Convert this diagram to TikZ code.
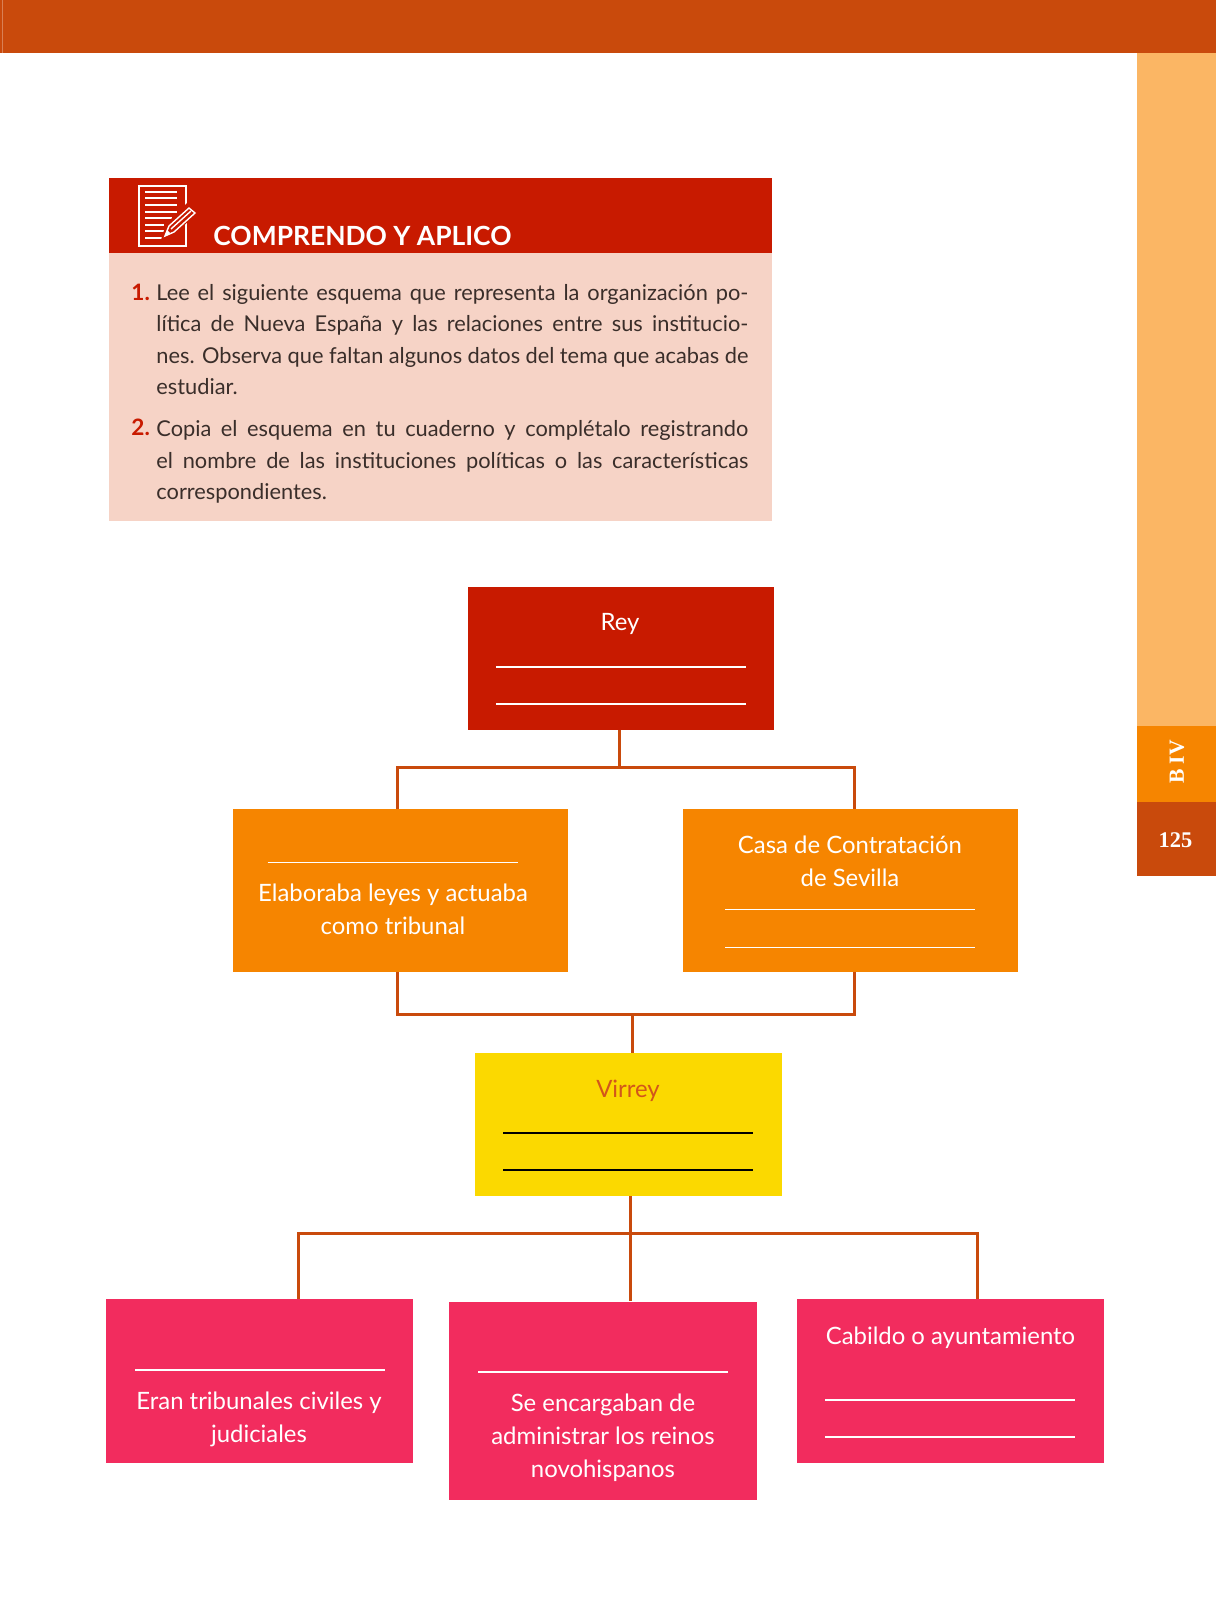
\documentclass[tikz,border=0pt]{standalone}
\usepackage{fontspec}
\setmainfont{Lato}
\newfontfamily\pagefont{Liberation Serif}
\usetikzlibrary{
  positioning,
  calc,
}
\definecolor{barCol}{HTML}{C94A0C}
\definecolor{sideCol}{HTML}{FBB664}
\definecolor{tabCol}{HTML}{F68500}
\definecolor{headCol}{HTML}{C81A00}
\definecolor{panelCol}{HTML}{F6D3C6}
\definecolor{yellowCol}{HTML}{FBD900}
\definecolor{pinkCol}{HTML}{F22C5E}
\definecolor{textCol}{HTML}{3A2E2A}
\definecolor{virreyCol}{HTML}{D2561A}
\tikzset{
  box/.style={
    rectangle, inner sep=0pt, draw=none, minimum width=#1,
  },
  boxtext/.style={
    font=\fontsize{11.95}{16.6}\selectfont, text=white, align=center, inner sep=0pt,
  },
  body/.style={
    font=\fontsize{10.9}{15.7}\selectfont, text=textCol, align=justify,
    text width=296pt, inner sep=0pt, anchor=north west,
  },
  num/.style={
    font=\fontsize{11.3}{15.7}\selectfont\bfseries, text=headCol, inner sep=0pt,
  },
  blank/.style={white, line width=0.75pt},
  link/.style={barCol, line width=1.5pt},
}

\begin{document}
\begin{tikzpicture}[x=0.5pt, y=-0.5pt]

  \useasboundingbox (0, 0) rectangle (1216, 1600);

  % Page frame
  \fill[barCol] (0, 0) rectangle (1216, 53);
  \draw[barCol!70!white, line width=0.5pt] (2.5, 0) -- (2.5, 53);
  \fill[sideCol] (1137, 53) rectangle (1216, 726);
  \fill[tabCol] (1137, 726) rectangle (1216, 802);
  \fill[barCol] (1137, 802) rectangle (1216, 876);
  \node[font=\pagefont\fontsize{10.8}{12}\selectfont\bfseries, text=white, rotate=90, inner sep=0pt] (block) at (1177, 762) {B IV};
  \node[font=\pagefont\fontsize{11.2}{12}\selectfont\bfseries, text=white, inner sep=0pt] (page) at (1175.5, 840) {125};

  % Instructions
  \fill[headCol] (109, 178) rectangle (772, 253);
  \fill[panelCol] (109, 253) rectangle (772, 521);
  \node[font=\fontsize{13.2}{16}\selectfont\bfseries, text=white, anchor=west, inner sep=0pt] (title) at (213, 236) {COMPRENDO Y APLICO};

  % Notepad icon
  \draw[white, line width=1.1pt] (139, 186) rectangle (186, 246);
  \foreach \y/\e in {192/177, 198/177, 205/177, 212/177, 218/172, 225/164, 231/164, 238/162} {
    \draw[white, line width=0.9pt] (145, \y) -- (\e, \y);
  }
  \fill[headCol] (160, 243) -- (166, 224) -- (187, 203) -- (198, 211) -- (176, 234) -- cycle;
  \draw[white, line width=0.7pt, fill=headCol] (165, 236) -- (169, 226) -- (189, 208) -- (195, 213) -- (174, 232) -- cycle;
  \draw[white, line width=0.7pt] (171, 229) -- (191, 211);
  \fill[white] (165, 236) -- (167, 230) -- (170, 233) -- cycle;

  \node[num, anchor=base west] (n1) at (131, 300) {1.};
  \node[body] (item1) at (156, 284) {Lee el siguiente esquema que representa la organización po-\linebreak lítica de Nueva España y las relaciones entre sus institucio-\linebreak nes. Observa que faltan algunos datos del tema que acabas de\linebreak estudiar.};
  \node[num, anchor=base west] (n2) at (131, 435) {2.};
  \node[body] (item2) at (156, 420.5) {Copia el esquema en tu cuaderno y complétalo registrando\linebreak el nombre de las instituciones políticas o las características\linebreak correspondientes.};

  % Boxes
  \node[box=167.5pt, minimum height=81.5pt, fill=tabCol] (leyes) at (400.5, 890.5) {};
  \node[box=167.5pt, minimum height=81.5pt, fill=tabCol] (casa) at (850, 890.5) {};
  \node[box=153pt, minimum height=71.5pt, fill=headCol] (rey) at (620.5, 658) {};
  \node[box=153.5pt, minimum height=71.5pt, fill=yellowCol] (virrey) at (628.5, 1124.5) {};
  \node[box=153.5pt, minimum height=82pt, fill=pinkCol] (trib) at (259.5, 1381) {};
  \node[box=154pt, minimum height=99pt, fill=pinkCol] (reinos) at (603, 1400.5) {};
  \node[box=153.5pt, minimum height=82pt, fill=pinkCol] (cabildo) at (950.5, 1381) {};

  % Box texts
  \node[boxtext] (reyT) at (620, 624) {Rey};
  \node[boxtext] (leyesT) at (393, 909.5) {Elaboraba leyes y actuaba\\como tribunal};
  \node[boxtext] (casaT) at (850, 861.5) {Casa de Contratación\\de Sevilla};
  \node[boxtext, text=virreyCol] (virreyT) at (628, 1090.5) {Virrey};
  \node[boxtext] (tribT) at (259, 1419.5) {Eran tribunales civiles y\\judiciales};
  \node[boxtext] (reinosT) at (603, 1437.5) {Se encargaban de\\administrar los reinos\\novohispanos};
  \node[boxtext] (cabildoT) at (950.5, 1338) {Cabildo o ayuntamiento};

  % Blanks to fill in
  \foreach \x/\y in {496/667, 496/704, 267.5/862.5, 725/909.5, 725/947.5, 135/1370, 478/1372, 825/1400, 825/1437} {
    \draw[blank] (\x, \y) -- +(250, 0);
  }
  \foreach \y in {1133, 1170} {
    \draw[blank, black] (503, \y) -- +(250, 0);
  }

  % Connectors
  \coordinate (top) at (619, 767);
  \coordinate (topL) at (397, 767);
  \coordinate (topR) at (854, 767);
  \coordinate (mid) at (632.5, 1014);
  \coordinate (midL) at (397, 1014);
  \coordinate (midR) at (854, 1014);
  \coordinate (low) at (630.5, 1233);
  \coordinate (lowL) at (298, 1233);
  \coordinate (lowR) at (977, 1233);

  \draw[link] (rey.south -| top) -- (top);
  \draw[link] (leyes.north -| topL) -- (topL) -- (topR) -- (casa.north -| topR);
  \draw[link] (leyes.south -| midL) -- (midL) -- (midR) -- (casa.south -| midR);
  \draw[link] (mid) -- (virrey.north -| mid);
  \draw[link] (virrey.south -| low) -- (reinos.north -| low);
  \draw[link] (trib.north -| lowL) -- (lowL) -- (lowR) -- (cabildo.north -| lowR);

\end{tikzpicture}
\end{document}
